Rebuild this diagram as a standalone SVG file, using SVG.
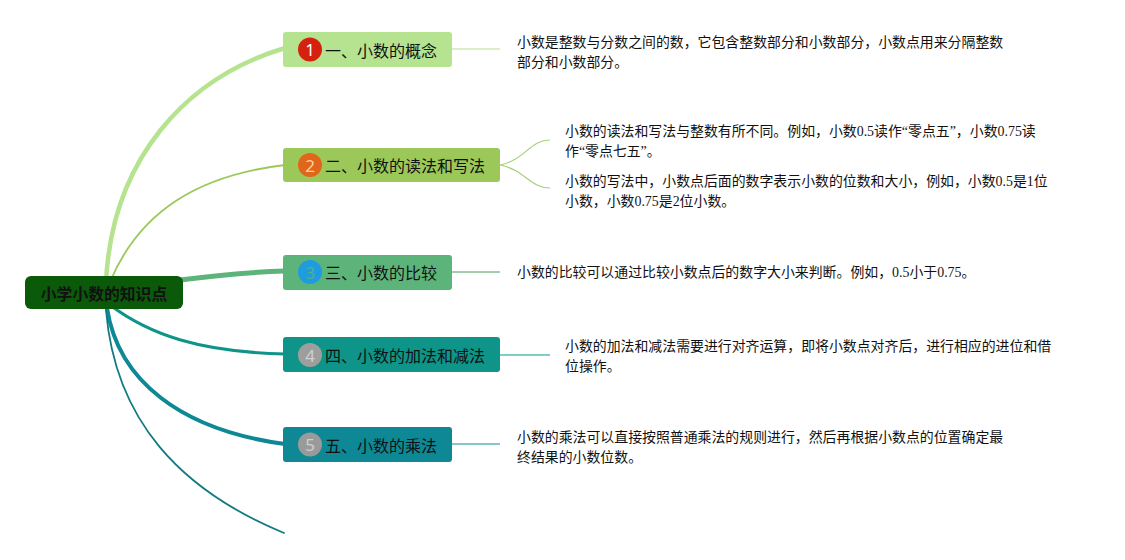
<svg xmlns="http://www.w3.org/2000/svg" width="1125" height="560" viewBox="0 0 1125 560">
<style>
.nt{font-family:"Noto Sans CJK SC","Noto Sans",sans-serif;font-size:16px;fill:#111;dominant-baseline:central}
.num{font-family:"Noto Sans","Liberation Sans",sans-serif;font-size:17px;text-anchor:middle;dominant-baseline:central}
.dt{font-family:"Liberation Serif","Noto Sans CJK SC",serif;font-size:13.9px;fill:#111}
.br{fill:none;stroke-linecap:round}
</style>
<rect width="1125" height="560" fill="#fff"/>
<g id="connectors">
<path class="br" d="M106,282 C112,160 185,78 285,48" stroke="#b6e38f" stroke-width="4.5"/>
<path class="br" d="M110,282 C140,210 200,175 285,165" stroke="#9cc85a" stroke-width="1.8"/>
<path class="br" d="M180,280 C220,275 250,272 285,271" stroke="#5db47a" stroke-width="5"/>
<path class="br" d="M110,305 C150,335 200,352 285,354" stroke="#0e9488" stroke-width="3"/>
<path class="br" d="M107,308 C118,380 180,430 285,444" stroke="#0e8895" stroke-width="4"/>
<path class="br" d="M106,310 C115,420 180,490 284,533" stroke="#117a82" stroke-width="1.8"/>
<path d="M452,49 H500" stroke="#cdeab4" stroke-width="1.5" fill="none"/>
<path d="M500,165 C525,160 530,140 550,140 M500,165 C525,170 530,188 550,188" stroke="#a8cf7a" stroke-width="1.2" fill="none"/>
<path d="M452,272 H500" stroke="#4a9a5a" stroke-width="1" fill="none"/>
<path d="M500,355 H550" stroke="#7ccfc6" stroke-width="1.8" fill="none"/>
<path d="M452,444 H500" stroke="#86c6cd" stroke-width="1.8" fill="none"/>
</g>
<g id="root">
<rect x="25" y="276" width="158" height="33" rx="6" fill="#0a5a0a"/>
<text x="104" y="293" text-anchor="middle" dominant-baseline="central" style="font-family:'Noto Sans CJK SC',sans-serif;font-size:15.8px;font-weight:bold;fill:#111">小学小数的知识点</text>
</g>
<g id="n1">
<rect x="283" y="32" width="169" height="35" rx="3" fill="#b6e38f"/>
<circle cx="310" cy="49.5" r="12" fill="#d4220e"/>
<text class="num" x="310" y="49.5" fill="#fff">1</text>
<text class="nt" x="325" y="49.5">一、小数的概念</text>
</g>
<g id="n2">
<rect x="283" y="148" width="217" height="34" rx="3" fill="#9cc85a"/>
<circle cx="310" cy="165" r="12" fill="#e2661a"/>
<text class="num" x="310" y="165" fill="#f7d4a0">2</text>
<text class="nt" x="325" y="165">二、小数的读法和写法</text>
</g>
<g id="n3">
<rect x="283" y="255" width="169" height="35" rx="3" fill="#5db47a"/>
<circle cx="310" cy="272" r="12" fill="#1f9ce0"/>
<text class="num" x="310" y="272" fill="#4fb08a">3</text>
<text class="nt" x="325" y="272">三、小数的比较</text>
</g>
<g id="n4">
<rect x="283" y="337" width="217" height="35" rx="3" fill="#0e9488"/>
<circle cx="310" cy="355" r="12" fill="#9e9e9e"/>
<text class="num" x="310" y="355" fill="#d0d0d0">4</text>
<text class="nt" x="325" y="355">四、小数的加法和减法</text>
</g>
<g id="n5">
<rect x="283" y="427" width="169" height="35" rx="3" fill="#0e8895"/>
<circle cx="310" cy="444.5" r="12" fill="#9a9a9a"/>
<text class="num" x="310" y="444.5" fill="#cfcfcf">5</text>
<text class="nt" x="325" y="444.5">五、小数的乘法</text>
</g>
<g id="d1">
<text class="dt" x="517" y="47">小数是整数与分数之间的数，它包含整数部分和小数部分，小数点用来分隔整数</text>
<text class="dt" x="517" y="67">部分和小数部分。</text>
</g>
<g id="d2a">
<text class="dt" x="565" y="136">小数的读法和写法与整数有所不同。例如，小数0.5读作“零点五”，小数0.75读</text>
<text class="dt" x="565" y="156">作“零点七五”。</text>
</g>
<g id="d2b">
<text class="dt" x="565" y="186">小数的写法中，小数点后面的数字表示小数的位数和大小，例如，小数0.5是1位</text>
<text class="dt" x="565" y="206">小数，小数0.75是2位小数。</text>
</g>
<g id="d3">
<text class="dt" x="517" y="277">小数的比较可以通过比较小数点后的数字大小来判断。例如，0.5小于0.75。</text>
</g>
<g id="d4">
<text class="dt" x="565" y="351">小数的加法和减法需要进行对齐运算，即将小数点对齐后，进行相应的进位和借</text>
<text class="dt" x="565" y="371">位操作。</text>
</g>
<g id="d5">
<text class="dt" x="517" y="442">小数的乘法可以直接按照普通乘法的规则进行，然后再根据小数点的位置确定最</text>
<text class="dt" x="517" y="462">终结果的小数位数。</text>
</g>
</svg>
